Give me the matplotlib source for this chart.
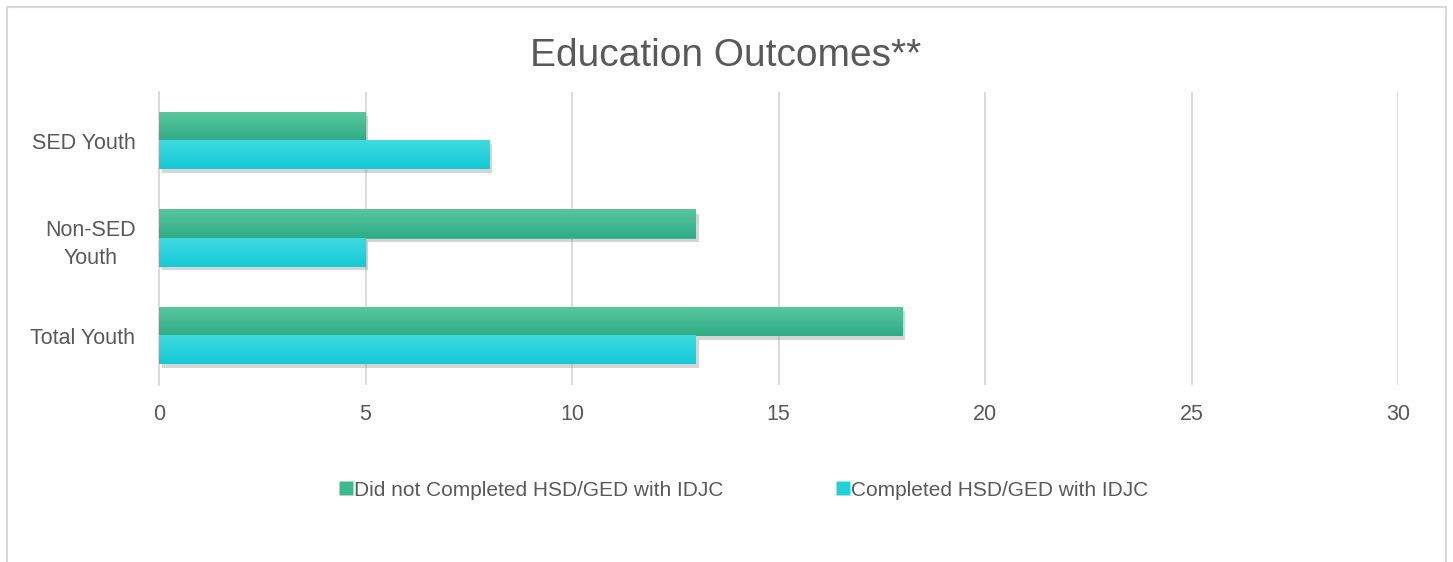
import matplotlib
matplotlib.use("Agg")
import matplotlib.pyplot as plt
import numpy as np
from matplotlib.colors import LinearSegmentedColormap
import matplotlib.patheffects as pe
from matplotlib.lines import Line2D

categories = ["Total Youth", "Non-SED\nYouth", "SED Youth"]
did_not = [18, 13, 5]
completed = [13, 5, 8]
series_names = ["Did not Completed HSD/GED with IDJC", "Completed HSD/GED with IDJC"]
xticks = [0, 5, 10, 15, 20, 25, 30]

plt.rcParams['font.family'] = ['Liberation Sans', 'DejaVu Sans']
txt = '#595959'
grid_c = '#d9d9d9'

fig = plt.figure(figsize=(14.53, 5.62), dpi=100)
ax = fig.add_axes([159/1453, 1-385/562, (1398-159)/1453, (385-92)/562])

h = 0.29
y = np.arange(len(categories))
green_cm = LinearSegmentedColormap.from_list('g', ['#58c79f', '#2fac86'])
cyan_cm = LinearSegmentedColormap.from_list('c', ['#40dae0', '#14c9d6'])
grad = np.linspace(0, 1, 64).reshape(-1, 1)

def draw(vals, offset, cmap, solid):
    bars = ax.barh(y + offset, vals, height=h, color=solid, zorder=3,
                   path_effects=[pe.SimplePatchShadow(offset=(2, -2.5), shadow_rgbFace='#888888', alpha=0.35), pe.Normal()])
    for b in bars:
        x0, y0, w, hh = b.get_x(), b.get_y(), b.get_width(), b.get_height()
        ax.imshow(grad, extent=[x0, x0 + w, y0, y0 + hh], origin='upper', cmap=cmap,
                  aspect='auto', zorder=4, interpolation='bilinear')

draw(did_not, h/2, green_cm, '#3fb98f')
draw(completed, -h/2, cyan_cm, '#22d0da')

ax.set_xlim(0, 30)
ax.set_ylim(-0.5, 2.5)
ax.set_xticks(xticks)
ax.set_yticks(y)
ax.set_yticklabels(categories, fontsize=15.5, color=txt, linespacing=1.45, multialignment='center')
ax.tick_params(axis='x', labelsize=15.5, colors=txt, length=0, pad=14)
ax.tick_params(axis='y', length=0, pad=17)
ax.grid(axis='x', color=grid_c, linewidth=1.3, zorder=0)
ax.set_axisbelow(True)
for s in ['top', 'right', 'bottom']:
    ax.spines[s].set_visible(False)
ax.spines['left'].set_color(grid_c)
ax.spines['left'].set_linewidth(1.3)

fig.text(726/1453, 1-56/562, "Education Outcomes**", ha='center', va='center', fontsize=28, color=txt)

handles = [Line2D([], [], marker='s', linestyle='none', markersize=10, markerfacecolor='#3fb98f', markeredgecolor='none'),
           Line2D([], [], marker='s', linestyle='none', markersize=10, markerfacecolor='#22d0da', markeredgecolor='none')]
leg = fig.legend(handles, series_names, loc='center', bbox_to_anchor=(743/1453, 1-490/562), ncol=2,
                 frameon=False, fontsize=15, labelcolor=txt, handletextpad=0.0, columnspacing=5.3, handlelength=0.8)

# outer border
fig.add_artist(Line2D([7/1453, 7/1453], [0, 1-7/562], transform=fig.transFigure, color=grid_c, linewidth=1.5))
fig.add_artist(Line2D([1446/1453, 1446/1453], [0, 1-7/562], transform=fig.transFigure, color=grid_c, linewidth=1.5))
fig.add_artist(Line2D([7/1453, 1446/1453], [1-7/562, 1-7/562], transform=fig.transFigure, color=grid_c, linewidth=1.5))

fig.savefig("out.png", dpi=100)
